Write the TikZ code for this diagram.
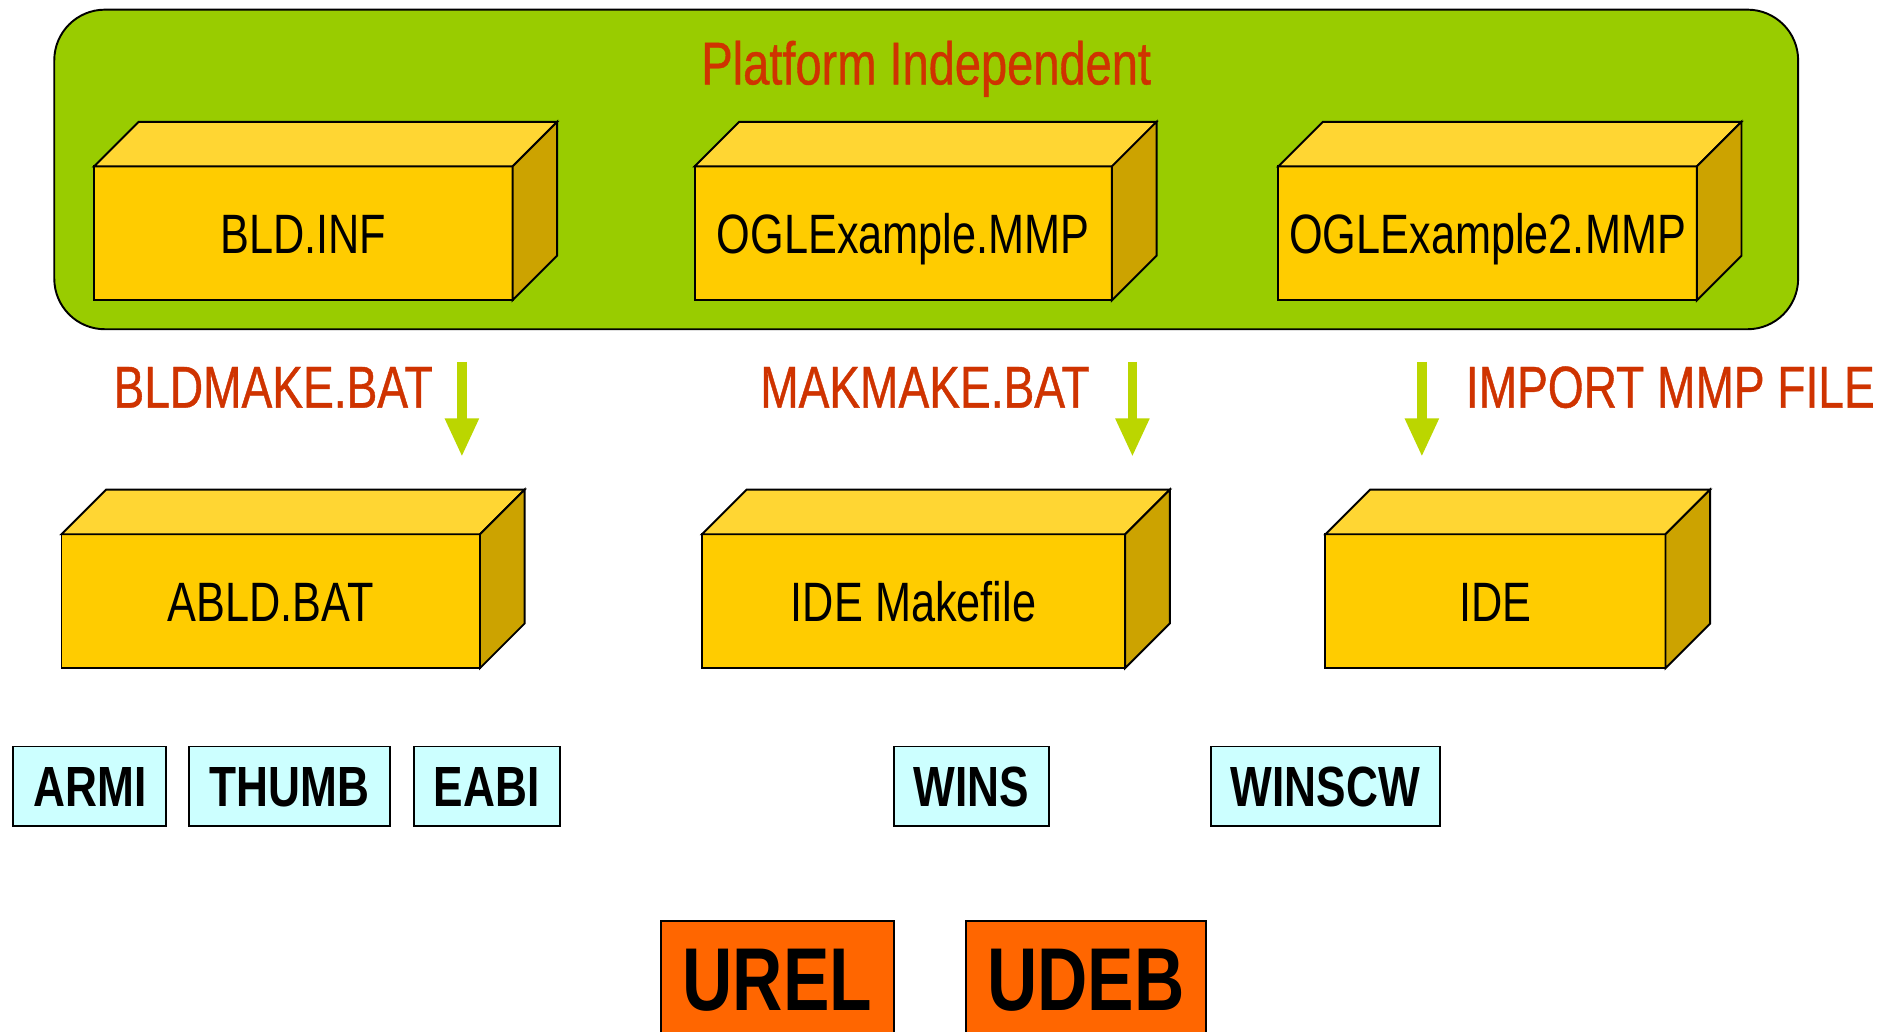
\documentclass[tikz,border=0pt]{standalone}
\usepackage{fontspec}
\setmainfont{Liberation Sans}[FakeStretch=0.78]
\newfontfamily\labelfont{Liberation Sans}[FakeStretch=0.78, FakeBold=0.7]
\usetikzlibrary{arrows.meta}
\definecolor{bggreen}{HTML}{99CC00}
\definecolor{boxfront}{HTML}{FFCC00}
\definecolor{boxtop}{HTML}{FFD633}
\definecolor{boxside}{HTML}{CCA300}
\definecolor{arrowgreen}{HTML}{BBD600}
\definecolor{labelred}{HTML}{CF3300}
\definecolor{platcyan}{HTML}{CCFFFF}
\definecolor{buildorange}{HTML}{FF6600}
\tikzset{
  edge/.style={draw=black, line width=1.6pt, line join=miter},
  container/.style={edge, fill=bggreen, rounded corners=42pt, outer sep=0pt},
  frontface/.style={edge, fill=boxfront, minimum height=111pt, inner sep=0pt, outer sep=0pt,
    font=\fontsize{46}{50}\selectfont, text height=33pt, text depth=0pt},
  redlabel/.style={text=labelred, font=\labelfont\fontsize{49}{52}\selectfont, inner sep=0pt, anchor=base},
  platbox/.style={edge, fill=platcyan, minimum height=66pt, inner sep=0pt, outer sep=0pt,
    font=\fontsize{47}{50}\selectfont\bfseries, text height=34pt, text depth=0pt},
  cfgbox/.style={edge, fill=buildorange, minimum height=94pt, inner sep=0pt, outer sep=0pt,
    font=\fontsize{74}{80}\selectfont\bfseries, text height=53pt, text depth=0pt},
  flowarrow/.style={draw=arrowgreen, line width=8pt, -{Triangle[width=26pt,length=32pt]}},
}
\newcommand\cuboid[5]{%
  \node[frontface, minimum width=#4] (#1) at (#2,#3) {#5};
  \draw[edge, fill=boxtop] (#1.north west) -- ++(37,-37) -- ([shift={(37,-37)}]#1.north east) -- (#1.north east) -- cycle;
  \draw[edge, fill=boxside] (#1.north east) -- ++(37,-37) -- ([shift={(37,-37)}]#1.south east) -- (#1.south east) -- cycle;
}
\begin{document}
\begin{tikzpicture}[x=1pt,y=-1pt]
\clip (0,0) rectangle (1568,855);
\fill[white] (0,0) rectangle (1568,855);

% platform independent container
\node[container, minimum width=1446pt, minimum height=265pt] (plat) at (768,140.5) {};
\node[redlabel, font=\labelfont\fontsize{50}{54}\selectfont] (plattitle) at (768,70) {Platform Independent};

% top row boxes
\cuboid{bldinf}{251.5}{193.5}{347pt}{BLD.INF}
\cuboid{oglmmp}{749}{193.5}{346pt}{OGLExample.MMP}
\cuboid{oglmmp2}{1233.5}{193.5}{347pt}{OGLExample2.MMP}

% arrows and labels
\coordinate (a1s) at (383,300); \coordinate (a1e) at (383,379);
\coordinate (a2s) at (939,300); \coordinate (a2e) at (939,379);
\coordinate (a3s) at (1179,300); \coordinate (a3e) at (1179,379);
\draw[flowarrow] (a1s) -- (a1e);
\draw[flowarrow] (a2s) -- (a2e);
\draw[flowarrow] (a3s) -- (a3e);
\node[redlabel] (bldmake) at (226.5,338) {BLDMAKE.BAT};
\node[redlabel] (makmake) at (767,338) {MAKMAKE.BAT};
\node[redlabel] (import) at (1385,338) {IMPORT MMP FILE};

% second row boxes
\cuboid{abld}{224.5}{498.5}{347pt}{ABLD.BAT}
\cuboid{idemake}{757.5}{498.5}{351pt}{IDE Makefile}
\cuboid{ide}{1240}{498.5}{282pt}{IDE}

% platforms
\node[platbox, minimum width=127pt] (armi) at (74.5,652) {ARMI};
\node[platbox, minimum width=166pt] (thumb) at (240,652) {THUMB};
\node[platbox, minimum width=121pt] (eabi) at (403.5,652) {EABI};
\node[platbox, minimum width=129pt] (wins) at (805.5,652) {WINS};
\node[platbox, minimum width=190pt] (winscw) at (1099,652) {WINSCW};

% build variants
\node[cfgbox, minimum width=193pt] (urel) at (644.5,811) {UREL};
\node[cfgbox, minimum width=199pt] (udeb) at (900.5,811) {UDEB};
\end{tikzpicture}
\end{document}
